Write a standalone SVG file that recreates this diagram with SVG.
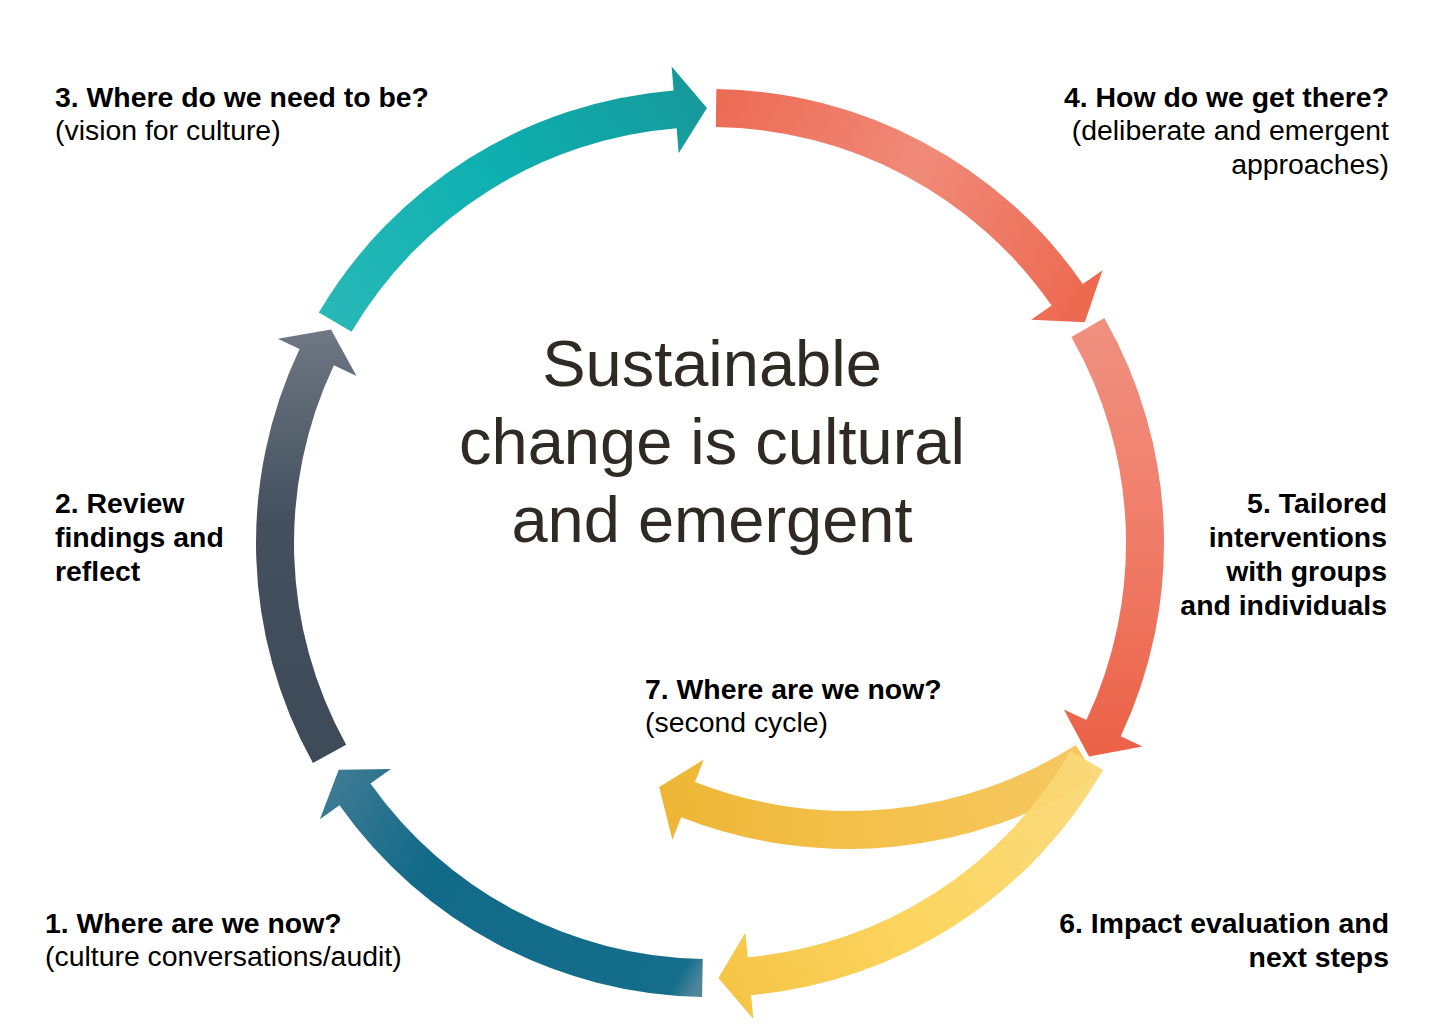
<svg xmlns="http://www.w3.org/2000/svg" width="1440" height="1035" viewBox="0 0 1440 1035">
  <style>
    .lbl { font-family: "Liberation Sans", Arial, sans-serif; font-size: 28.4px; fill: #000; }
    .b { font-weight: bold; }
    .title { font-family: "Liberation Sans", Arial, sans-serif; font-size: 65px; fill: #2f2a24; text-anchor: middle; }
    .end { text-anchor: end; }
  </style>
  <defs>
    <linearGradient id="g3" gradientUnits="userSpaceOnUse" x1="335" y1="322" x2="700" y2="108">
      <stop offset="0" stop-color="#27b8b7"/>
      <stop offset="0.5" stop-color="#0eb0b0"/>
      <stop offset="1" stop-color="#169a9c"/>
    </linearGradient>
    <linearGradient id="g4" gradientUnits="userSpaceOnUse" x1="716" y1="108" x2="1075" y2="305">
      <stop offset="0" stop-color="#ec6b54"/>
      <stop offset="0.5" stop-color="#f08a79"/>
      <stop offset="1" stop-color="#ed6a51"/>
    </linearGradient>
    <linearGradient id="g5" gradientUnits="userSpaceOnUse" x1="1090" y1="327" x2="1088" y2="750">
      <stop offset="0" stop-color="#f0907f"/>
      <stop offset="0.5" stop-color="#f07c68"/>
      <stop offset="1" stop-color="#eb6247"/>
    </linearGradient>
    <linearGradient id="g6" gradientUnits="userSpaceOnUse" x1="1086" y1="760" x2="725" y2="977">
      <stop offset="0" stop-color="#fad878"/>
      <stop offset="0.5" stop-color="#fcd45a"/>
      <stop offset="1" stop-color="#f5c23e"/>
    </linearGradient>
    <linearGradient id="g7" gradientUnits="userSpaceOnUse" x1="1086" y1="760" x2="665" y2="790">
      <stop offset="0" stop-color="#f6c862"/>
      <stop offset="0.5" stop-color="#f4c14c"/>
      <stop offset="1" stop-color="#edb636"/>
    </linearGradient>
    <linearGradient id="g1" gradientUnits="userSpaceOnUse" x1="702" y1="978" x2="340" y2="770">
      <stop offset="0" stop-color="#4f859b"/>
      <stop offset="0.05" stop-color="#146e8b"/>
      <stop offset="0.7" stop-color="#106a88"/>
      <stop offset="1" stop-color="#3e7a93"/>
    </linearGradient>
    <linearGradient id="g2" gradientUnits="userSpaceOnUse" x1="330" y1="754" x2="330" y2="330">
      <stop offset="0" stop-color="#3d4a58"/>
      <stop offset="0.55" stop-color="#44505e"/>
      <stop offset="1" stop-color="#6e7783"/>
    </linearGradient>
  </defs>
  <rect width="1440" height="1035" fill="#ffffff"/>

  <g id="connectors">
    <path id="arrow7" fill="url(#g7)" d="M1096.16,776.96 A460,460 0 0 1 681.16,817.29 L672.40,839.63 L659.15,787.04 L703.78,759.56 L695.02,781.91 A422,422 0 0 0 1075.74,744.91 Z"/>
    <path id="arrow3" fill="url(#g3)" d="M318.82,312.58 A454,454 0 0 1 673.59,90.46 L671.66,66.54 L706.96,108.01 L678.64,153.26 L676.64,128.34 A416,416 0 0 0 351.56,331.86 Z"/>
    <path id="arrow4" fill="url(#g4)" d="M716.34,89.04 A454,454 0 0 1 1082.80,283.90 L1102.51,270.20 L1084.81,322.22 L1031.07,319.85 L1051.60,305.58 A416,416 0 0 0 715.81,127.04 Z"/>
    <path id="arrow5" fill="url(#g5)" d="M1104.36,318.06 A454,454 0 0 1 1120.79,736.30 L1142.51,746.52 L1088.98,756.54 L1063.79,709.48 L1086.41,720.12 A416,416 0 0 0 1071.35,336.89 Z"/>
    <path id="arrow6" fill="url(#g6)" opacity="0.95" d="M1103.18,770 A454,454 0 0 1 751.15,995.13 L753.32,1019.03 L718.35,977.92 L745.44,932.39 L747.70,957.29 A416,416 0 0 0 1070.27,751 Z"/>
    <path id="arrow1" fill="url(#g1)" d="M702.08,996.93 A454,454 0 0 1 339.47,805.35 L319.89,819.22 L338.72,769.64 L390.89,768.94 L370.49,783.39 A416,416 0 0 0 702.74,958.94 Z"/>
    <path id="arrow2" fill="url(#g2)" d="M312.92,763.10 A454,454 0 0 1 299.55,348.98 L277.85,338.72 L331.02,329.46 L356.50,375.90 L333.90,365.22 A416,416 0 0 0 346.16,744.68 Z"/>
  </g>

  <g id="title">
    <text class="title" x="712" y="386">Sustainable</text>
    <text class="title" x="712" y="464">change is cultural</text>
    <text class="title" x="712" y="542">and emergent</text>
  </g>

  <g id="node1">
    <text class="lbl b" x="45" y="933">1. Where are we now?</text>
    <text class="lbl" x="45" y="966">(culture conversations/audit)</text>
  </g>
  <g id="node2">
    <text class="lbl b" x="55" y="513">2. Review</text>
    <text class="lbl b" x="55" y="547">findings and</text>
    <text class="lbl b" x="55" y="581">reflect</text>
  </g>
  <g id="node3">
    <text class="lbl b" x="55" y="107">3. Where do we need to be?</text>
    <text class="lbl" x="55" y="140">(vision for culture)</text>
  </g>
  <g id="node4">
    <text class="lbl b end" x="1389" y="107">4. How do we get there?</text>
    <text class="lbl end" x="1389" y="140">(deliberate and emergent</text>
    <text class="lbl end" x="1389" y="174">approaches)</text>
  </g>
  <g id="node5">
    <text class="lbl b end" x="1387" y="513">5. Tailored</text>
    <text class="lbl b end" x="1387" y="547">interventions</text>
    <text class="lbl b end" x="1387" y="581">with groups</text>
    <text class="lbl b end" x="1387" y="615">and individuals</text>
  </g>
  <g id="node6">
    <text class="lbl b end" x="1389" y="933">6. Impact evaluation and</text>
    <text class="lbl b end" x="1389" y="967">next steps</text>
  </g>
  <g id="node7">
    <text class="lbl b" x="645" y="699">7. Where are we now?</text>
    <text class="lbl" x="645" y="732">(second cycle)</text>
  </g>
</svg>
